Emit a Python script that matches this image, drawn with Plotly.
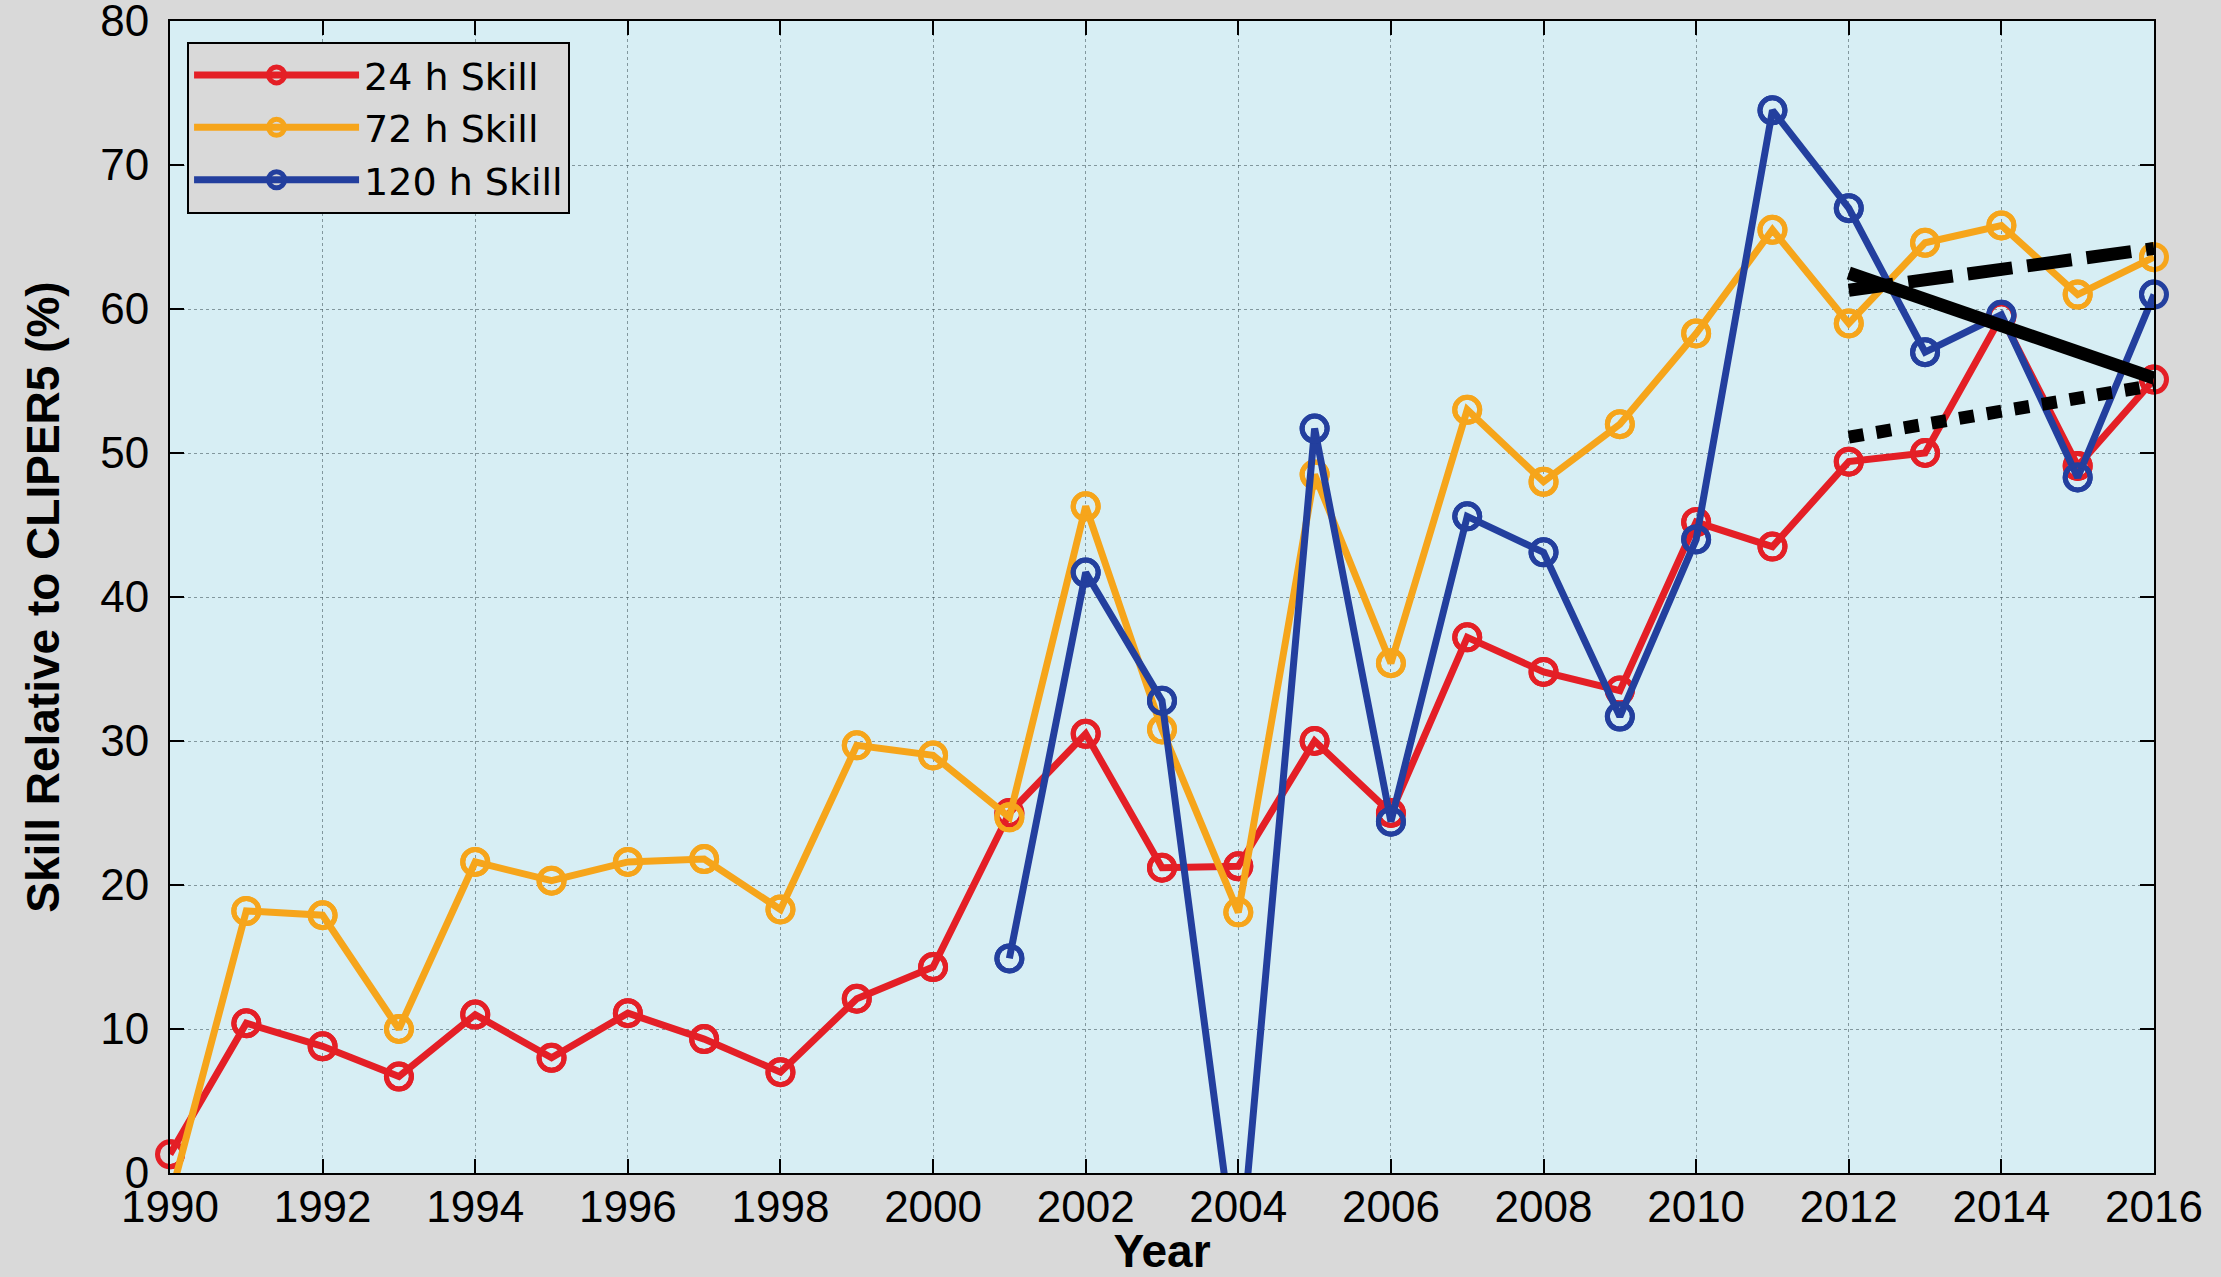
import plotly.graph_objects as go

years = list(range(1990, 2017))

# skill relative to CLIPER5 (%)
skill_24h = [1.3, 10.4, 8.8, 6.7, 11.0, 8.0, 11.1, 9.3, 7.0, 12.1, 14.3, 25.0, 30.5, 21.2,
             21.3, 30.0, 25.0, 37.2, 34.8, 33.5, 45.2, 43.5, 49.4, 50.0, 59.5, 49.1, 55.1]
skill_72h = [-1.8, 18.2, 17.9, 10.0, 21.6, 20.3, 21.6, 21.8, 18.3, 29.7, 29.0, 24.7, 46.3, 30.8,
             18.1, 48.5, 35.4, 53.0, 48.0, 52.0, 58.3, 65.5, 59.0, 64.6, 65.8, 61.0, 63.6]
years_120h = list(range(2001, 2017))
skill_120h = [14.9, 41.7, 32.8, -7.5, 51.7, 24.4, 45.6, 43.1, 31.7, 44.0, 73.8, 67.0, 57.0,
              59.6, 48.3, 61.0]

# trend lines over 2012-2016
trend_years = [2012, 2016]
trend_120h = [62.5, 55.2]
trend_72h = [61.3, 64.2]
trend_24h = [51.1, 54.7]

series = [
    ("24 h Skill", years, skill_24h, "#e41f26"),
    ("72 h Skill", years, skill_72h, "#f6a51b"),
    ("120 h Skill", years_120h, skill_120h, "#233f9e"),
]

fig = go.Figure()

for name, xs, ys, color in series:
    mk = dict(symbol="circle-open", size=25, color=color, line=dict(width=5, color=color))
    fig.add_trace(go.Scatter(
        x=xs, y=ys, name=name, mode="lines+markers",
        line=dict(color=color, width=7), marker=mk, cliponaxis=True,
    ))
    # markers inside the y range are drawn unclipped, like matlab does at the edges
    keep = [(x, y) for x, y in zip(xs, ys) if y >= 0]
    fig.add_trace(go.Scatter(
        x=[k[0] for k in keep], y=[k[1] for k in keep], mode="markers", showlegend=False,
        marker=mk, cliponaxis=False, hoverinfo="skip",
    ))

for ys, dash in [(trend_120h, "solid"), (trend_72h, "45px,15px"), (trend_24h, "15px,13px")]:
    fig.add_trace(go.Scatter(
        x=trend_years, y=ys, mode="lines", showlegend=False,
        line=dict(color="black", width=13, dash=dash),
    ))

grid = "rgba(60,80,85,0.55)"

fig.update_layout(
    width=2221, height=1277,
    paper_bgcolor="#d9d9d9", plot_bgcolor="#d7eef4",
    margin=dict(l=170, r=67, t=21, b=104),
    font=dict(family="Liberation Sans, Arial, sans-serif", size=42, color="black"),
    legend=dict(
        x=0.0086, y=0.982, xanchor="left", yanchor="top",
        bgcolor="#d9d9d9", bordercolor="black", borderwidth=2,
        font=dict(family="DejaVu Sans, sans-serif", size=38), itemwidth=165,
    ),
)

fig.update_xaxes(
    range=[1990, 2016], dtick=2, tick0=1990, automargin=False,
    ticks="inside", ticklen=14, tickwidth=2, tickcolor="black",
    showline=True, linecolor="black", linewidth=2, mirror="ticks",
    showgrid=True, gridcolor=grid, gridwidth=1, griddash="dot",
    zeroline=False, ticklabeloverflow="allow", ticklabelstandoff=-6,
    tickfont=dict(size=44),
    title=dict(text="<b>Year</b>", font=dict(size=46), standoff=0),
)
fig.update_yaxes(
    range=[0, 80], dtick=10, automargin=False,
    ticks="inside", ticklen=14, tickwidth=2, tickcolor="black",
    showline=True, linecolor="black", linewidth=2, mirror="ticks",
    showgrid=True, gridcolor=grid, gridwidth=1, griddash="dot",
    zeroline=False, ticklabeloverflow="allow", ticklabelstandoff=10,
    tickfont=dict(size=44),
    title=dict(text="<b>Skill Relative to CLIPER5 (%)</b>", font=dict(size=46), standoff=26),
)

# the page body has a default 8px margin; drop it so the figure fills the window
fig.write_html("out.html", config={"displayModeBar": False},
               post_script="document.body.style.margin='0';")
